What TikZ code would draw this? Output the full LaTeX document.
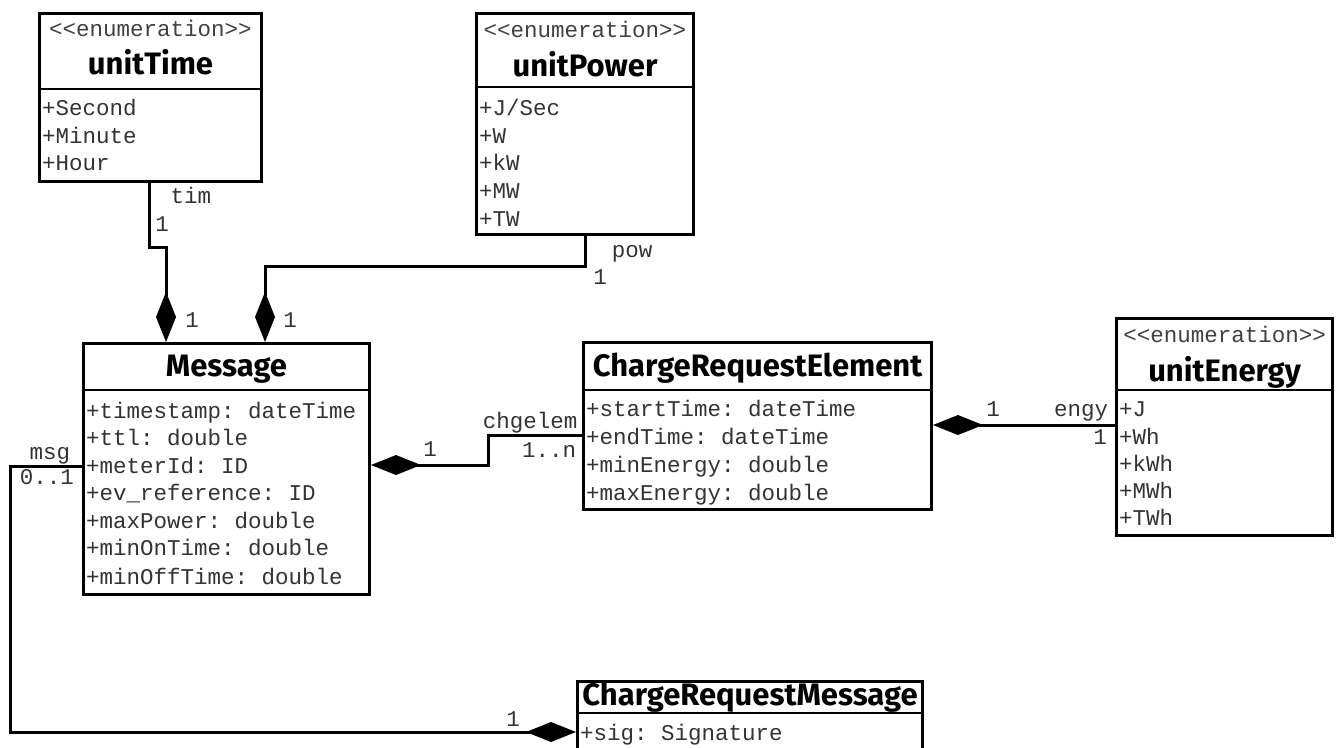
\documentclass[tikz,border=0pt]{standalone}
\usepackage{fontspec}
\setmonofont{Liberation Mono}
\newfontfamily\classfont{Fira Sans}
\usetikzlibrary{arrows.meta}

\newcommand{\attrfont}{\ttfamily\fontsize{22.5}{26}\selectfont}
\newcommand{\namefont}{\classfont\bfseries\fontsize{31}{35}\selectfont}

\begin{document}
\begin{tikzpicture}[x=1pt,y=-1pt,
    umlbox/.style={draw,line width=3pt,fill=white,inner sep=0pt,anchor=north west},
    divider/.style={line width=2.5pt},
    attr/.style={anchor=base west,inner sep=0pt,font=\attrfont,text=black!80},
    stereo/.style={anchor=base,inner sep=0pt,font=\attrfont,text=black!75},
    classname/.style={anchor=base,inner sep=0pt,font=\namefont},
    mult/.style={inner sep=0pt,font=\attrfont,text=black!80,text height=13pt,text depth=4pt},
    assoc/.style={line width=3pt},
    comp/.style={assoc,{Diamond[length=50pt,width=20pt]}-}]
            \useasboundingbox (0,0) rectangle (1337,747);

            \node[umlbox,minimum width=222pt,minimum height=168pt] (unitTime) at (38,12) {};
            \draw[divider] (unitTime.west |- 0,89) -- (unitTime.east |- 0,89);
            \node[stereo] (unitTimeS) at (unitTime.north |- 0,36) {<<enumeration>>};
            \node[classname] (unitTimeN) at (unitTime.north |- 0,74) {unitTime};
            \node[attr] (unitTimeA) at (42,115) {+Second};
            \node[attr] (unitTimeB) at (42,143) {+Minute};
            \node[attr] (unitTimeC) at (42,170) {+Hour};

            \node[umlbox,minimum width=217pt,minimum height=221pt] (unitPower) at (475,12) {};
            \draw[divider] (unitPower.west |- 0,87) -- (unitPower.east |- 0,87);
            \node[stereo] (unitPowerS) at (unitPower.north |- 0,37) {<<enumeration>>};
            \node[classname] (unitPowerN) at (unitPower.north |- 0,76) {unitPower};
            \node[attr] (unitPowerA) at (479,115) {+J/Sec};
            \node[attr] (unitPowerB) at (479,143) {+W};
            \node[attr] (unitPowerC) at (479,170) {+kW};
            \node[attr] (unitPowerD) at (479,198) {+MW};
            \node[attr] (unitPowerE) at (479,226) {+TW};

            \node[umlbox,minimum width=286pt,minimum height=251pt] (message) at (82,342) {};
            \draw[divider] (message.west |- 0,390) -- (message.east |- 0,390);
            \node[classname] (messageN) at (message.north |- 0,376) {Message};
            \node[attr] (messageA) at (86,418) {+timestamp: dateTime};
            \node[attr] (messageB) at (86,445) {+ttl: double};
            \node[attr] (messageC) at (86,473) {+meterId: ID};
            \node[attr] (messageD) at (86,500) {+ev\_reference: ID};
            \node[attr] (messageE) at (86,528) {+maxPower: double};
            \node[attr] (messageF) at (86,555) {+minOnTime: double};
            \node[attr] (messageG) at (86,584) {+minOffTime: double};

            \node[umlbox,minimum width=348pt,minimum height=167pt] (chgElem) at (582,341) {};
            \draw[divider] (chgElem.west |- 0,390) -- (chgElem.east |- 0,390);
            \node[classname] (chgElemN) at (chgElem.north |- 0,376) {ChargeRequestElement};
            \node[attr] (chgElemA) at (586,416) {+startTime: dateTime};
            \node[attr] (chgElemB) at (586,444) {+endTime: dateTime};
            \node[attr] (chgElemC) at (586,472) {+minEnergy: double};
            \node[attr] (chgElemD) at (586,500) {+maxEnergy: double};

            \node[umlbox,minimum width=216pt,minimum height=217pt] (unitEnergy) at (1115,317) {};
            \draw[divider] (unitEnergy.west |- 0,390) -- (unitEnergy.east |- 0,390);
            \node[stereo] (unitEnergyS) at (unitEnergy.north |- 0,342) {<<enumeration>>};
            \node[classname] (unitEnergyN) at (unitEnergy.north |- 0,381) {unitEnergy};
            \node[attr] (unitEnergyA) at (1119,416) {+J};
            \node[attr] (unitEnergyB) at (1119,444) {+Wh};
            \node[attr] (unitEnergyC) at (1119,471) {+kWh};
            \node[attr] (unitEnergyD) at (1119,498) {+MWh};
            \node[attr] (unitEnergyE) at (1119,525) {+TWh};

            \node[umlbox,minimum width=345pt,minimum height=68pt] (chgMsg) at (576,680) {};
            \draw[divider] (chgMsg.west |- 0,713) -- (chgMsg.east |- 0,713);
            \node[classname] (chgMsgN) at (chgMsg.north |- 0,705) {ChargeRequestMessage};
            \node[attr] (chgMsgA) at (580,740) {+sig: Signature};

            \draw[comp] (message.north -| 166,0) |- (149,247) -- (unitTime.south -| 149,0);
            \node[mult] (timL) at (191,199) {tim};
            \node[mult] (timM) at (162,227) {1};
            \node[mult] (timO) at (192,323) {1};

            \draw[comp] (message.north -| 265,0) |- (585,266) -- (unitPower.south -| 585,0);
            \node[mult] (powL) at (632,253) {pow};
            \node[mult] (powM) at (600,280) {1};
            \node[mult] (powO) at (290,323) {1};

            \draw[comp] (message.east |- 0,465) -| (488,435) -- (chgElem.west |- 0,435);
            \node[mult] (elemO) at (430,452) {1};
            \node[mult] (elemL) at (530,424) {chgelem};
            \node[mult] (elemM) at (549,453) {1..n};

            \draw[comp] (chgElem.east |- 0,425) -- (unitEnergy.west |- 0,425);
            \node[mult] (engyO) at (993,412) {1};
            \node[mult] (engyL) at (1081,412) {engy};
            \node[mult] (engyM) at (1100,440) {1};

            \draw[comp] (chgMsg.west |- 0,732) -| (10,466) -- (message.west |- 0,466);
            \node[mult] (msgO) at (513,722) {1};
            \node[mult] (msgL) at (50,455) {msg};
            \node[mult] (msgM) at (47,480) {0..1};
\end{tikzpicture}
\end{document}
